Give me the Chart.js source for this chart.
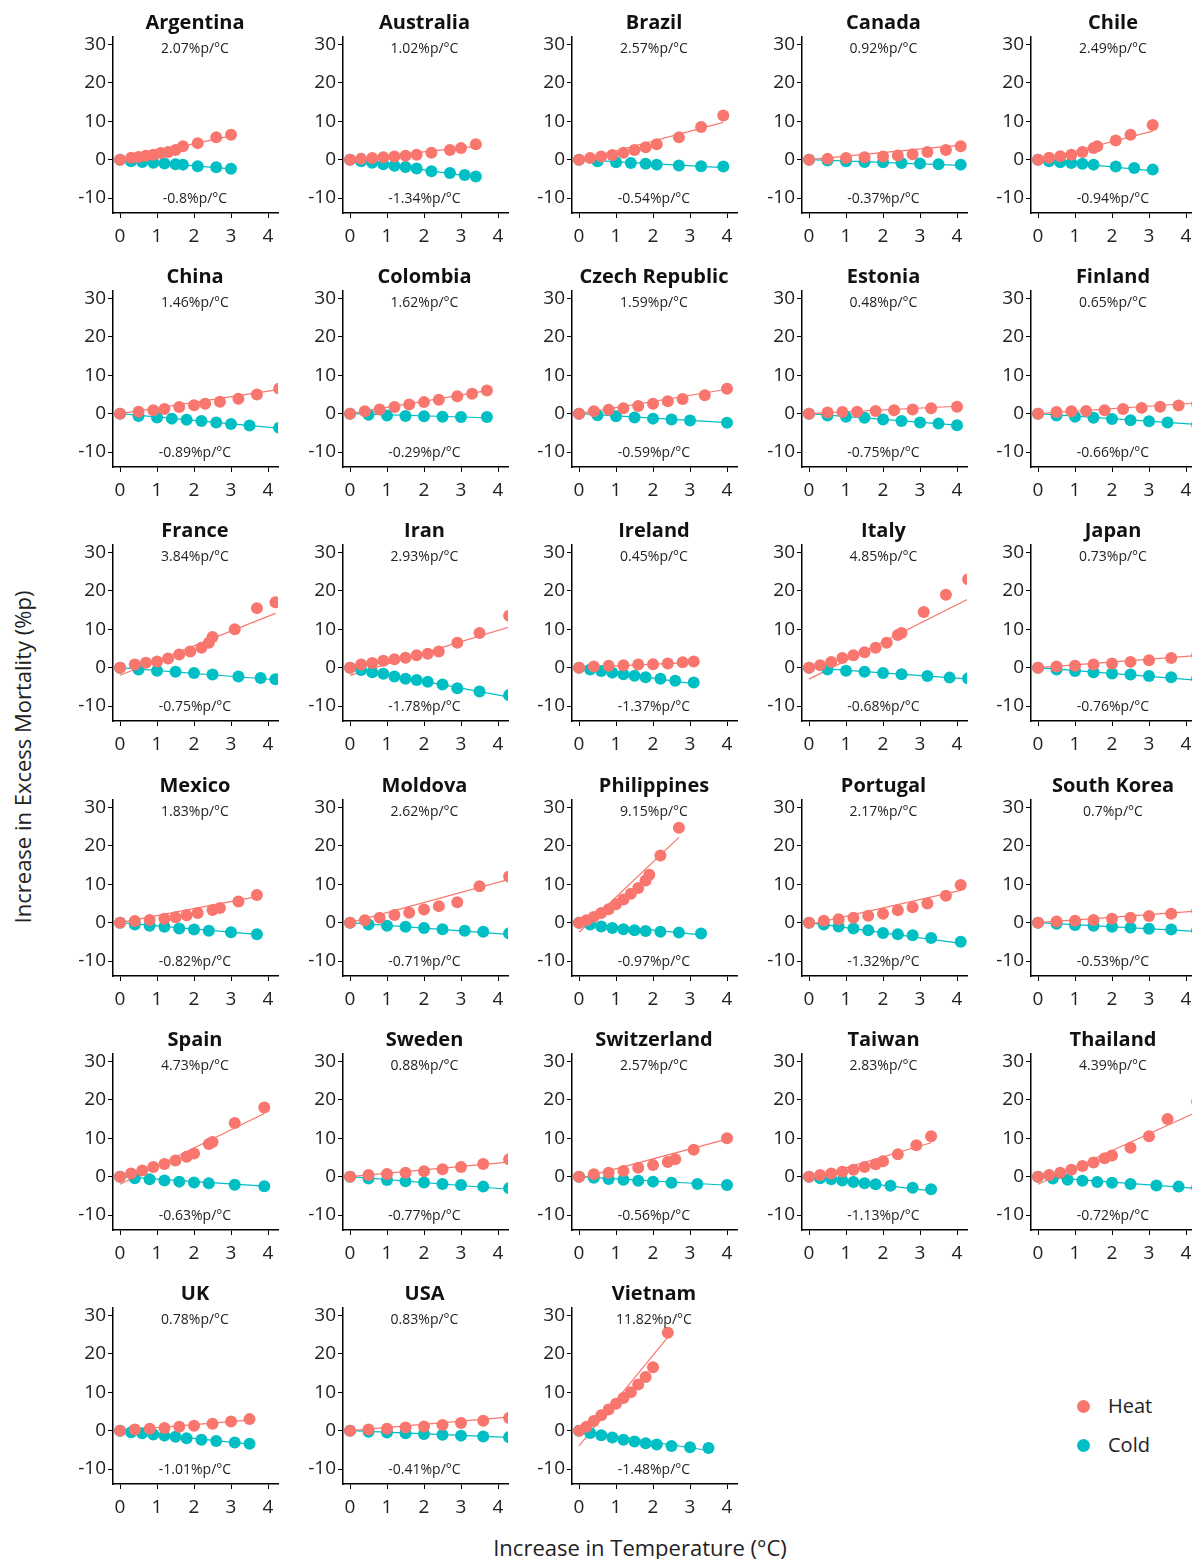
<!DOCTYPE html>
<html>
<head>
<meta charset="utf-8">
<script src="https://cdn.jsdelivr.net/npm/chart.js@4"></script>
<style>
  body { margin: 0; width: 1192px; height: 1559px; overflow: hidden; background: #fff; font-family: "Open Sans", "DejaVu Sans", sans-serif; position: relative; }
  .panel { position: absolute; }
  .title { position: absolute; width: 200px; text-align: center; font-weight: bold; font-size: 20px; color: #111; }
  .slope { position: absolute; width: 160px; text-align: center; font-size: 14px; color: #222; }
  .lab { position: absolute; font-size: 22px; color: #222; white-space: nowrap; }
</style>
</head>
<body>
<script>
const countries = ['Argentina', 'Australia', 'Brazil', 'Canada', 'Chile',
    'China', 'Colombia', 'Czech Republic', 'Estonia', 'Finland',
    'France', 'Iran', 'Ireland', 'Italy', 'Japan',
    'Mexico', 'Moldova', 'Philippines', 'Portugal', 'South Korea',
    'Spain', 'Sweden', 'Switzerland', 'Taiwan', 'Thailand',
    'UK', 'USA', 'Vietnam'];

const heatSlope = [2.07, 1.02, 2.57, 0.92, 2.49, 1.46, 1.62, 1.59, 0.48, 0.65,
    3.84, 2.93, 0.45, 4.85, 0.73, 1.83, 2.62, 9.15, 2.17, 0.7,
    4.73, 0.88, 2.57, 2.83, 4.39, 0.78, 0.83, 11.82];
const coldSlope = [-0.8, -1.34, -0.54, -0.37, -0.94, -0.89, -0.29, -0.59, -0.75, -0.66,
    -0.75, -1.78, -1.37, -0.68, -0.76, -0.82, -0.71, -0.97, -1.32, -0.53,
    -0.63, -0.77, -0.56, -1.13, -0.72, -1.01, -0.41, -1.48];
const heatIntercept = [0, 0, -0.3, 0, -0.3, 0, 0, 0, 0, 0,
    -2, -2, 0, -3, 0, 0, 0, -2.5, -0.5, 0,
    -2, 0, -0.5, -0.5, -2, 0, 0, -4];

const heatPts = [
  [[0,0],[0.3,0.5],[0.5,0.7],[0.7,1],[0.9,1.3],[1.1,1.7],[1.3,2],[1.5,2.5],[1.7,3.5],[2.1,4.3],[2.6,5.8],[3,6.5]],
  [[0,0],[0.3,0.2],[0.6,0.4],[0.9,0.6],[1.2,0.8],[1.5,1],[1.8,1.3],[2.2,1.8],[2.7,2.5],[3,3],[3.4,4]],
  [[0,0],[0.3,0.4],[0.6,0.8],[0.9,1.2],[1.2,1.8],[1.5,2.5],[1.8,3.2],[2.1,4],[2.7,5.8],[3.3,8.5],[3.9,11.5]],
  [[0,0],[0.5,0.2],[1,0.4],[1.5,0.6],[2,0.8],[2.4,1.1],[2.8,1.4],[3.2,2],[3.7,2.5],[4.1,3.5]],
  [[0,0],[0.3,0.5],[0.6,0.9],[0.9,1.3],[1.2,2],[1.5,3],[1.6,3.5],[2.1,5],[2.5,6.5],[3.1,9]],
  [[0,0],[0.5,0.5],[0.9,0.9],[1.2,1.2],[1.6,1.7],[2,2.2],[2.3,2.6],[2.7,3.1],[3.2,3.9],[3.7,5],[4.3,6.5]],
  [[0,0],[0.4,0.6],[0.8,1.1],[1.2,1.7],[1.6,2.4],[2,3],[2.4,3.6],[2.9,4.5],[3.3,5.2],[3.7,6]],
  [[0,0],[0.4,0.6],[0.8,1],[1.2,1.4],[1.6,2],[2,2.6],[2.4,3.2],[2.8,3.8],[3.4,4.8],[4,6.5]],
  [[0,0],[0.5,0.3],[0.9,0.4],[1.3,0.5],[1.8,0.7],[2.3,0.9],[2.8,1.1],[3.3,1.4],[4,1.8]],
  [[0,0],[0.5,0.4],[0.9,0.6],[1.3,0.7],[1.8,0.9],[2.3,1.2],[2.8,1.5],[3.3,1.8],[3.8,2.1],[4.3,2.5]],
  [[0,0],[0.4,0.8],[0.7,1.3],[1,1.6],[1.3,2.4],[1.6,3.4],[1.9,4.2],[2.2,5.2],[2.4,6.5],[2.5,8],[3.1,10],[3.7,15.5],[4.2,17]],
  [[0,0],[0.3,0.8],[0.6,1.2],[0.9,1.8],[1.2,2.2],[1.5,2.6],[1.8,3.2],[2.1,3.6],[2.4,4.2],[2.9,6.5],[3.5,9],[4.3,13.5]],
  [[0,0],[0.4,0.3],[0.8,0.5],[1.2,0.6],[1.6,0.8],[2,0.9],[2.4,1.1],[2.8,1.4],[3.1,1.6]],
  [[0,0],[0.3,0.6],[0.6,1.5],[0.9,2.5],[1.2,3.2],[1.5,4],[1.8,5.2],[2.1,6.5],[2.4,8.5],[2.5,9],[3.1,14.5],[3.7,19],[4.3,23]],
  [[0,0],[0.5,0.3],[1,0.5],[1.5,0.8],[2,1.1],[2.5,1.5],[3,1.9],[3.6,2.5],[4.3,3.2]],
  [[0,0],[0.4,0.4],[0.8,0.7],[1.2,1],[1.5,1.4],[1.8,1.9],[2.1,2.5],[2.5,3.3],[2.7,3.8],[3.2,5.5],[3.7,7.2]],
  [[0,0],[0.4,0.6],[0.8,1.3],[1.2,2],[1.6,2.6],[2,3.4],[2.4,4.3],[2.9,5.3],[3.5,9.5],[4.3,12]],
  [[0,0],[0.2,0.6],[0.4,1.5],[0.6,2.5],[0.8,3.5],[1,4.8],[1.2,6],[1.4,7.5],[1.6,9],[1.8,11],[1.9,12.5],[2.2,17.5],[2.7,24.7]],
  [[0,0],[0.4,0.5],[0.8,0.9],[1.2,1.3],[1.6,1.8],[2,2.3],[2.4,3.2],[2.8,4],[3.2,5],[3.7,7],[4.1,9.8]],
  [[0,0],[0.5,0.3],[1,0.5],[1.5,0.7],[2,1],[2.5,1.3],[3,1.7],[3.6,2.3],[4.3,3]],
  [[0,0],[0.3,0.8],[0.6,1.6],[0.9,2.5],[1.2,3.3],[1.5,4.2],[1.8,5.2],[2,6],[2.4,8.5],[2.5,9],[3.1,14],[3.9,18]],
  [[0,0],[0.5,0.4],[1,0.7],[1.5,1],[2,1.4],[2.5,1.9],[3,2.5],[3.6,3.3],[4.3,4.5]],
  [[0,0],[0.4,0.6],[0.8,1],[1.2,1.5],[1.6,2.3],[2,3],[2.4,3.8],[2.6,4.5],[3.1,7],[4,10]],
  [[0,0],[0.3,0.4],[0.6,0.8],[0.9,1.3],[1.2,1.8],[1.5,2.5],[1.8,3.2],[2,4],[2.4,5.8],[2.9,8.2],[3.3,10.5]],
  [[0,0],[0.3,0.4],[0.6,1],[0.9,1.8],[1.2,2.8],[1.5,3.7],[1.8,4.8],[2,5.5],[2.5,7.5],[3,10.5],[3.5,15],[4.3,19.5]],
  [[0,0],[0.4,0.3],[0.8,0.5],[1.2,0.7],[1.6,1],[2,1.3],[2.5,1.8],[3,2.4],[3.5,3]],
  [[0,0],[0.5,0.3],[1,0.5],[1.5,0.8],[2,1.1],[2.5,1.5],[3,2],[3.6,2.6],[4.3,3.3]],
  [[0,0],[0.2,1],[0.4,2.5],[0.6,4],[0.8,5.5],[1,7],[1.2,8.5],[1.4,10],[1.6,12],[1.8,14],[2,16.5],[2.4,25.5]]
];

const coldPts = [
  [[0,0],[0.3,-0.4],[0.6,-0.6],[0.9,-0.8],[1.2,-1],[1.5,-1.2],[1.7,-1.3],[2.1,-1.7],[2.6,-2],[3,-2.4]],
  [[0,0],[0.3,-0.4],[0.6,-0.8],[0.9,-1.2],[1.2,-1.6],[1.5,-1.9],[1.8,-2.3],[2.2,-3],[2.7,-3.5],[3.1,-4],[3.4,-4.4]],
  [[0,0],[0.5,-0.4],[1,-0.7],[1.4,-0.9],[1.8,-1.1],[2.1,-1.3],[2.7,-1.5],[3.3,-1.7],[3.9,-1.8]],
  [[0,0],[0.5,-0.2],[1,-0.4],[1.5,-0.6],[2,-0.7],[2.5,-0.9],[3,-1],[3.5,-1.2],[4.1,-1.3]],
  [[0,0],[0.3,-0.4],[0.6,-0.7],[0.9,-0.9],[1.2,-1.1],[1.5,-1.3],[2.1,-1.8],[2.6,-2.2],[3.1,-2.6]],
  [[0,0],[0.5,-0.6],[1,-1],[1.4,-1.3],[1.8,-1.6],[2.2,-1.9],[2.6,-2.3],[3,-2.7],[3.5,-3.1],[4.3,-3.7]],
  [[0,0],[0.5,-0.3],[1,-0.5],[1.5,-0.6],[2,-0.7],[2.5,-0.8],[3,-0.9],[3.7,-0.9]],
  [[0,0],[0.5,-0.4],[1,-0.7],[1.5,-1],[2,-1.3],[2.5,-1.5],[3,-1.8],[4,-2.4]],
  [[0,0],[0.5,-0.5],[1,-0.8],[1.5,-1.1],[2,-1.5],[2.5,-1.9],[3,-2.3],[3.5,-2.6],[4,-3]],
  [[0,0],[0.5,-0.5],[1,-0.8],[1.5,-1.1],[2,-1.4],[2.5,-1.7],[3,-2],[3.5,-2.3],[4.3,-2.8]],
  [[0,0],[0.5,-0.5],[1,-0.8],[1.5,-1.1],[2,-1.4],[2.5,-1.8],[3.2,-2.3],[3.8,-2.7],[4.2,-3]],
  [[0,0],[0.3,-0.6],[0.6,-1.2],[0.9,-1.6],[1.2,-2.3],[1.5,-2.9],[1.8,-3.2],[2.1,-3.7],[2.5,-4.4],[2.9,-5.4],[3.5,-6.2],[4.3,-7.2]],
  [[0,0],[0.3,-0.5],[0.6,-0.9],[0.9,-1.3],[1.2,-1.7],[1.5,-2.1],[1.8,-2.5],[2.2,-2.9],[2.6,-3.4],[3.1,-3.9]],
  [[0,0],[0.5,-0.5],[1,-0.8],[1.5,-1.1],[2,-1.4],[2.5,-1.7],[3.2,-2.2],[3.8,-2.6],[4.3,-2.8]],
  [[0,0],[0.5,-0.5],[1,-0.9],[1.5,-1.2],[2,-1.5],[2.5,-1.8],[3,-2.2],[3.6,-2.5],[4.3,-2.8]],
  [[0,0],[0.4,-0.5],[0.8,-0.8],[1.2,-1.1],[1.6,-1.5],[2,-1.8],[2.4,-2.1],[3,-2.5],[3.7,-3]],
  [[0,0],[0.5,-0.5],[1,-0.8],[1.5,-1.1],[2,-1.4],[2.5,-1.7],[3.1,-2.1],[3.6,-2.4],[4.3,-2.8]],
  [[0,0],[0.3,-0.5],[0.6,-1],[0.9,-1.4],[1.2,-1.7],[1.5,-2],[1.8,-2.2],[2.2,-2.4],[2.7,-2.6],[3.3,-2.8]],
  [[0,0],[0.4,-0.5],[0.8,-1],[1.2,-1.5],[1.6,-2],[2,-2.7],[2.4,-3],[2.8,-3.3],[3.3,-4],[4.1,-5]],
  [[0,0],[0.5,-0.3],[1,-0.6],[1.5,-0.8],[2,-1.1],[2.5,-1.3],[3,-1.6],[3.6,-1.8],[4.3,-2]],
  [[0,0],[0.4,-0.4],[0.8,-0.7],[1.2,-1],[1.6,-1.3],[2,-1.5],[2.4,-1.7],[3.1,-2.1],[3.9,-2.5]],
  [[0,0],[0.5,-0.5],[1,-0.9],[1.5,-1.2],[2,-1.5],[2.5,-1.9],[3,-2.2],[3.6,-2.6],[4.3,-3]],
  [[0,0],[0.4,-0.3],[0.8,-0.6],[1.2,-0.8],[1.6,-1.1],[2,-1.3],[2.5,-1.6],[3.2,-1.9],[4,-2.2]],
  [[0,0],[0.3,-0.4],[0.6,-0.7],[0.9,-1],[1.2,-1.4],[1.5,-1.7],[1.8,-2],[2.2,-2.4],[2.8,-2.9],[3.3,-3.3]],
  [[0,0],[0.4,-0.5],[0.8,-0.8],[1.2,-1.1],[1.6,-1.4],[2,-1.6],[2.5,-1.9],[3.2,-2.3],[3.8,-2.6],[4.3,-2.8]],
  [[0,0],[0.3,-0.4],[0.6,-0.7],[0.9,-1],[1.2,-1.3],[1.5,-1.6],[1.8,-2],[2.2,-2.4],[2.6,-2.7],[3.1,-3.1],[3.5,-3.4]],
  [[0,0],[0.5,-0.3],[1,-0.5],[1.5,-0.7],[2,-0.9],[2.5,-1.1],[3,-1.3],[3.6,-1.5],[4.3,-1.7]],
  [[0,0],[0.3,-0.6],[0.6,-1.2],[0.9,-1.8],[1.2,-2.4],[1.5,-2.8],[1.8,-3.3],[2.1,-3.6],[2.5,-4],[3,-4.3],[3.5,-4.5]]
];

const xTicks = [0, 1, 2, 3, 4];
const yTicks = [-10, 0, 10, 20, 30];

const HEAT = '#F8766D';
const COLD = '#00BFC4';
const colStep = 229.5, rowStep = 254.2;
const axisX0 = 113, plotTop0 = 35, plotH = 178, plotW = 165;
const yAxisW = 50, xAxisH = 40, padTop = 12, padRight = 15;

function fmt(v) { return v + '%p/\u00B0C'; }

function addDiv(cls, text, left, top, extra) {
  const d = document.createElement('div');
  d.className = cls;
  d.textContent = text;
  d.style.left = left + 'px';
  d.style.top = top + 'px';
  if (extra) Object.assign(d.style, extra);
  document.body.appendChild(d);
  return d;
}

function fitLine(pts, slope, b) {
  const xmax = Math.max(...pts.map(p => p[0]));
  return [{x: 0, y: b}, {x: xmax, y: b + slope * xmax}];
}

function axisCommon(ticks, min, max, pad) {
  return {
    type: 'linear', min: min, max: max,
    afterBuildTicks: s => { s.ticks = ticks.map(v => ({value: v})); },
    grid: {drawOnChartArea: false, drawTicks: true, tickLength: 5, color: '#000'},
    border: {display: true, color: '#000', width: 1.5},
    ticks: {color: '#222', font: {size: 19, family: 'Open Sans'}, padding: pad, maxRotation: 0, autoSkip: false}
  };
}

countries.forEach((name, i) => {
  const col = i % 5, row = Math.floor(i / 5);
  const ax = axisX0 + col * colStep;
  const pt = plotTop0 + row * rowStep;
  const w = yAxisW + plotW + padRight, h = padTop + plotH + xAxisH;

  const wrap = document.createElement('div');
  wrap.className = 'panel';
  wrap.style.left = (ax - yAxisW) + 'px';
  wrap.style.top = (pt - padTop) + 'px';
  wrap.style.width = w + 'px';
  wrap.style.height = h + 'px';
  const cv = document.createElement('canvas');
  cv.width = w;
  cv.height = h;
  cv.style.width = w + 'px';
  cv.style.height = h + 'px';
  wrap.appendChild(cv);
  document.body.appendChild(wrap);

  const xs = axisCommon(xTicks, -0.19, 4.27, 7);
  xs.afterFit = s => { s.height = xAxisH; };
  const ys = axisCommon(yTicks, -13.9, 32.1, 2);
  ys.afterFit = s => { s.width = yAxisW; };

  const heatData = heatPts[i].map(p => ({x: p[0], y: p[1]}));
  const coldData = coldPts[i].map(p => ({x: p[0], y: p[1]}));

  new Chart(cv, {
    type: 'scatter',
    data: {
      datasets: [
        {data: heatData, backgroundColor: HEAT, borderWidth: 0, pointRadius: 6},
        {data: coldData, backgroundColor: COLD, borderWidth: 0, pointRadius: 6},
        {type: 'line', data: fitLine(heatPts[i], heatSlope[i], heatIntercept[i]), borderColor: HEAT, borderWidth: 1.2, pointRadius: 0},
        {type: 'line', data: fitLine(coldPts[i], coldSlope[i], 0), borderColor: COLD, borderWidth: 1.2, pointRadius: 0}
      ]
    },
    options: {
      responsive: false, maintainAspectRatio: false, animation: false, devicePixelRatio: 1,
      layout: {padding: {top: 0, right: padRight, left: 0, bottom: 0}},
      plugins: {legend: {display: false}, tooltip: {enabled: false}},
      scales: {x: xs, y: ys}
    }
  });

  const cx = ax + 82;
  addDiv('title', name, cx - 100, pt - 27);
  addDiv('slope', fmt(heatSlope[i]), cx - 80, pt + 3);
  addDiv('slope', fmt(coldSlope[i]), cx - 80, pt + 153);
});

// shared axis titles and legend
addDiv('lab', 'Increase in Excess Mortality (%p)', 22, 757,
  {transform: 'translate(-50%, -50%) rotate(-90deg)'});
addDiv('lab', 'Increase in Temperature (\u00B0C)', 640, 1547,
  {transform: 'translate(-50%, -50%)'});
[['Heat', HEAT, 1406], ['Cold', COLD, 1445]].forEach(([t, c, y]) => {
  addDiv('lab', '', 1077, y - 6, {width: '13px', height: '13px', borderRadius: '50%', background: c});
  addDiv('lab', t, 1108, y - 14, {fontSize: '20px'});
});
</script>
</body>
</html>
